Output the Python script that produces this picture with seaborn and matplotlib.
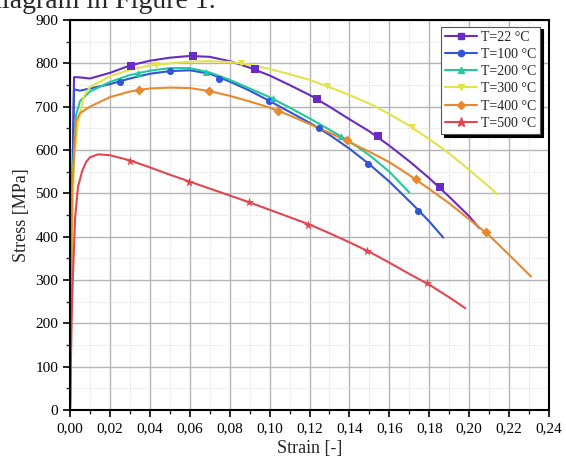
import numpy as np
import pandas as pd
import seaborn as sns
from matplotlib import pyplot as plt
from matplotlib.lines import Line2D
from matplotlib.ticker import FuncFormatter, MultipleLocator

# Curvas tensão x deformação
labels = ['T=22 °C', 'T=100 °C', 'T=200 °C', 'T=300 °C', 'T=400 °C', 'T=500 °C']
colors = ['#6a2bc4', '#2f55d8', '#22c9a0', '#e3e34a', '#e8892e', '#e2474f']
markers = ['s', 'o', '^', 'v', 'D', '*']

strain_22 = [0, 0.001, 0.002, 0.004, 0.01, 0.02, 0.03, 0.04, 0.05, 0.06, 0.07, 0.08, 0.09, 0.10,
             0.11, 0.12, 0.13, 0.14, 0.15, 0.16, 0.17, 0.18, 0.19, 0.20, 0.205]
stress_22 = [0, 450, 768, 768, 765, 778, 795, 806, 813, 817, 815, 805, 790, 772,
             750, 727, 700, 671, 643, 610, 574, 535, 492, 447, 420]

strain_100 = [0, 0.001, 0.002, 0.005, 0.01, 0.02, 0.03, 0.04, 0.05, 0.06, 0.07, 0.08, 0.09, 0.10,
              0.11, 0.12, 0.13, 0.14, 0.15, 0.16, 0.17, 0.175, 0.18, 0.187]
stress_100 = [0, 450, 740, 737, 742, 752, 765, 776, 782, 784, 776, 758, 737, 713,
              688, 663, 635, 603, 567, 527, 482, 459, 435, 398]

strain_200 = [0, 0.001, 0.003, 0.005, 0.01, 0.02, 0.03, 0.04, 0.05, 0.06, 0.07, 0.08, 0.09, 0.10,
              0.11, 0.12, 0.13, 0.14, 0.15, 0.16, 0.17]
stress_200 = [0, 520, 680, 713, 735, 757, 773, 783, 789, 789, 779, 762, 742, 722,
              698, 673, 647, 620, 588, 550, 502]

strain_300 = [0, 0.001, 0.002, 0.004, 0.007, 0.01, 0.02, 0.03, 0.04, 0.05, 0.06, 0.07, 0.08, 0.09,
              0.10, 0.11, 0.12, 0.13, 0.14, 0.15, 0.16, 0.17, 0.18, 0.19, 0.20, 0.21, 0.214]
stress_300 = [0, 400, 580, 660, 725, 745, 770, 785, 795, 800, 804, 805, 803, 797,
              787, 775, 762, 745, 727, 707, 683, 656, 625, 592, 554, 515, 498]

strain_400 = [0, 0.001, 0.003, 0.005, 0.01, 0.02, 0.03, 0.04, 0.05, 0.06, 0.07, 0.08, 0.09, 0.10,
              0.11, 0.12, 0.13, 0.14, 0.15, 0.16, 0.17, 0.18, 0.19, 0.20, 0.21, 0.22, 0.231]
stress_400 = [0, 500, 665, 685, 700, 722, 735, 742, 744, 743, 736, 725, 712, 698,
              680, 660, 640, 618, 596, 572, 542, 510, 477, 440, 403, 358, 308]

strain_500 = [0, 0.001, 0.0025, 0.004, 0.006, 0.008, 0.01, 0.014, 0.02, 0.03, 0.04, 0.05, 0.06,
              0.07, 0.08, 0.09, 0.10, 0.11, 0.12, 0.13, 0.14, 0.15, 0.16, 0.17, 0.18, 0.19, 0.198]
stress_500 = [0, 250, 440, 515, 550, 572, 583, 590, 588, 576, 560, 543, 527,
              511, 495, 479, 462, 445, 428, 408, 387, 365, 340, 314, 289, 260, 235]

# Posições dos marcadores
mk_strain_22 = [0.0306, 0.0616, 0.0927, 0.1236, 0.1541, 0.1854]
mk_stress_22 = [795, 817, 787, 718, 632, 514]
mk_strain_100 = [0.025, 0.05, 0.0747, 0.0998, 0.1247, 0.1494, 0.1745]
mk_stress_100 = [758, 782, 765, 713, 650, 568, 459]
mk_strain_200 = [0.0339, 0.068, 0.1019, 0.136]
mk_stress_200 = [777, 781, 719, 632]
mk_strain_300 = [0.043, 0.0855, 0.1286, 0.1715]
mk_stress_300 = [796, 800, 748, 652]
mk_strain_400 = [0.0346, 0.0696, 0.1044, 0.1386, 0.1733, 0.2083]
mk_stress_400 = [738, 735, 691, 622, 532, 411]
mk_strain_500 = [0.0301, 0.0598, 0.0897, 0.1194, 0.1486, 0.1787]
mk_stress_500 = [575, 527, 479, 428, 367, 292]

curves = [(strain_22, stress_22), (strain_100, stress_100), (strain_200, stress_200),
          (strain_300, stress_300), (strain_400, stress_400), (strain_500, stress_500)]
marks = [(mk_strain_22, mk_stress_22), (mk_strain_100, mk_stress_100), (mk_strain_200, mk_stress_200),
         (mk_strain_300, mk_stress_300), (mk_strain_400, mk_stress_400), (mk_strain_500, mk_stress_500)]

sns.set_style('ticks')
plt.rcParams['font.family'] = ['Liberation Serif', 'DejaVu Serif']

fig = plt.figure(figsize=(5.66, 4.62), dpi=100)
ax = fig.add_axes([0.1237, 0.1126, 0.8463, 0.8441])

# Grade
ax.xaxis.set_major_locator(MultipleLocator(0.02))
ax.xaxis.set_minor_locator(MultipleLocator(0.01))
ax.yaxis.set_major_locator(MultipleLocator(100))
ax.yaxis.set_minor_locator(MultipleLocator(50))
ax.grid(which='major', color='#b5b5b5', linewidth=1.0)
ax.grid(which='minor', color='#d8d8d8', linewidth=0.7, linestyle=':')
ax.set_axisbelow(True)

handles = []
for (x, y), (mx, my), lab, c, m in zip(curves, marks, labels, colors, markers):
    df = pd.DataFrame({'strain': x, 'stress': y})
    sns.lineplot(data=df, x='strain', y='stress', color=c, linewidth=1.5, sort=False,
                 legend=False, ax=ax)
    dm = pd.DataFrame({'strain': mx, 'stress': my})
    size = 50 if m == '*' else 26
    sns.scatterplot(data=dm, x='strain', y='stress', color=c, marker=m, s=size,
                    linewidth=0, legend=False, ax=ax, zorder=3)
    handles.append(Line2D([], [], color=c, marker=m, markersize=4.5 if m != '*' else 6.5,
                          linewidth=1.5, label=lab))

ax.set_xlim(0, 0.24)
ax.set_ylim(0, 900)
ax.xaxis.set_major_formatter(FuncFormatter(lambda v, p: f'{v:.2f}'.replace('.', ',')))
ax.tick_params(which='major', direction='out', length=5, width=1.2, labelsize=11, colors='black')
ax.tick_params(which='minor', direction='out', length=3, width=1.0)
for s in ax.spines.values():
    s.set_linewidth(1.5)
    s.set_color('black')

ax.set_xlabel('Strain [-]', fontsize=13)
ax.set_ylabel('Stress [MPa]', fontsize=13)

leg = ax.legend(handles=handles, loc='upper right', bbox_to_anchor=(0.988, 0.99),
                fontsize=10, frameon=True, fancybox=False, handlelength=2.3,
                handletextpad=0.3, labelspacing=0.3, borderpad=0.3, borderaxespad=0.2,
                shadow={'color': 'black', 'alpha': 1.0})
leg.get_frame().set_edgecolor('#555555')
leg.get_frame().set_linewidth(0.8)

# Texto cortado no topo da imagem
fig.text(-12 / 566, 1 - 8 / 462, 'diagram in Figure 1.', fontsize=20, va='baseline', ha='left')

plt.savefig('out.png', dpi=100)
